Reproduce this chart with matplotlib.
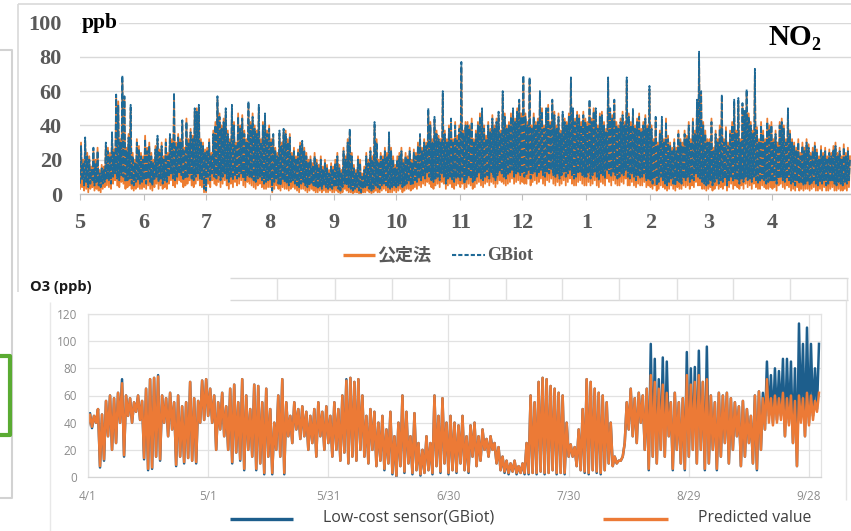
import numpy as np
import matplotlib
matplotlib.use("Agg")
import matplotlib.pyplot as plt
from matplotlib.lines import Line2D

# ---------------- NO2 chart data (daily low / high, May -> early May next year) ----------------
no2_months = ['5', '6', '7', '8', '9', '10', '11', '12', '1', '2', '3', '4']
no2_month_start_day = [0, 31, 61, 92, 123, 153, 184, 214, 245, 276, 304, 335]

no2_gbiot_hi = (
    [28,18,33,22,20,14,27,18,25,12,15,14,30,25,22,36,24,58,52,30,69,57,25,33,52,22,18,30,26,22,20] +
    [32,25,28,22,18,26,34,24,28,20,30,22,35,30,59,28,33,30,43,25,42,30,36,32,50,48,52,30,28,24] +
    [25,30,22,35,40,57,45,38,42,50,35,30,52,40,28,45,38,44,35,30,54,40,45,38,35,52,30,40,47,35,38] +
    [30,35,25,22,37,28,38,35,30,33,22,25,20,24,28,31,25,22,18,20,16,22,18,15,20,14,18,15,12,16,14] +
    [18,22,15,12,25,20,30,38,22,15,12,20,18,10,14,22,18,25,20,42,30,18,22,20,25,22,36,25,20,15] +
    [20,22,25,18,22,20,25,18,24,22,28,35,25,30,28,50,40,30,45,35,32,30,60,35,30,38,44,30,40,32,38] +
    [77,35,40,40,38,42,30,35,40,45,50,38,32,40,36,44,38,42,48,35,60,45,38,40,45,50,42,48,55,45] +
    [69,45,40,68,38,45,40,42,60,48,38,50,50,40,55,46,38,45,35,48,42,40,45,68,50,42,46,44,40,46,42] +
    [40,55,42,48,50,38,45,46,40,36,68,50,44,55,40,38,42,46,40,68,45,40,50,38,42,45,36,40,44,38,63] +
    [38,30,45,28,35,45,30,42,32,28,25,30,25,35,30,28,35,32,40,30,42,35,55,83,60,40,35,30] +
    [30,42,25,35,30,38,58,30,37,28,35,40,55,35,56,30,53,49,61,45,40,35,73,37,30,40,35,30,42,38,40] +
    [30,35,28,40,42,38,30,50,35,30,28,25,30,22,28,25,30,27,22,25,28,24,20,26,22,25,20,24,22,26] +
    [28,22,25,20,27,22,25,20]
)
no2_gbiot_lo = (
    [6,8,5,7,4,6,8,5,7,5,4,6,7,9,8,6,10,12,9,8,11,10,7,8,9,6,5,7,8,6,7] +
    [8,6,9,7,5,8,10,7,9,6,8,7,10,12,9,8,10,12,11,8,9,10,12,9,8,10,12,9,8,3] +
    [2,10,8,12,10,9,11,8,10,12,9,7,10,8,11,9,10,12,9,8,11,10,9,8,7,9,10,8,6,7,8] +
    [8,2,7,9,6,5,8,7,6,5,7,8,6,5,4,6,7,5,4,5,6,5,4,3,4,3,5,4,3,4,3] +
    [4,5,3,2,4,6,5,4,3,2,3,4,2,1,3,4,5,3,2,3,5,4,3,5,6,5,4,3,4,5] +
    [4,5,6,4,5,6,7,5,6,8,7,9,8,10,9,12,10,8,7,9,10,8,12,10,6,9,10,8,7,9,10] +
    [8,10,6,8,10,9,7,8,10,12,9,8,10,11,9,12,10,8,11,13,12,10,9,11,12,14,10,12,13,11] +
    [12,10,11,14,9,12,13,10,12,14,11,10,13,12,14,11,10,12,9,11,13,10,12,14,11,9,10,12,13,11,10] +
    [10,12,9,11,13,10,8,12,11,9,14,12,10,13,11,9,10,12,11,14,10,9,12,10,8,11,9,10,12,8,9] +
    [8,6,9,5,7,10,8,6,5,7,9,6,5,8,7,6,9,8,10,7,9,8,12,10,9,7,6,5] +
    [6,8,5,7,9,6,8,7,9,5,8,10,7,9,8,6,9,7,10,8,9,7,10,8,6,7,9,8,6,7,8] +
    [7,8,6,9,10,8,7,9,8,6,7,5,8,6,7,5,6,7,5,6,8,6,5,7,6,8,5,6,7,8] +
    [6,5,7,6,5,7,6,8]
)
no2_ref_hi = (
    [30,20,31,24,22,16,25,20,27,14,17,16,28,27,24,34,26,56,54,32,66,55,27,35,50,24,20,32,28,24,22] +
    [34,27,30,24,20,28,32,26,30,22,32,24,33,32,56,30,35,32,41,27,44,32,38,34,48,50,50,32,30,26] +
    [27,32,24,37,42,55,47,40,44,48,37,32,50,42,30,47,40,46,37,32,52,42,47,40,37,50,32,42,45,37,40] +
    [32,33,27,24,35,30,36,37,32,35,24,27,22,26,30,29,27,24,20,22,18,24,20,17,22,16,20,17,14,18,16] +
    [20,24,17,14,27,22,32,36,24,17,14,22,20,12,16,24,20,27,22,40,32,20,24,22,27,24,34,27,22,17] +
    [22,24,27,20,24,22,27,20,26,24,30,33,27,32,30,48,42,32,43,37,34,32,58,37,32,40,42,32,42,34,40] +
    [74,37,42,42,40,44,32,37,42,47,48,40,34,42,38,46,40,44,46,37,58,47,40,42,47,48,44,50,53,47] +
    [66,47,42,66,40,47,42,44,58,50,40,48,52,42,53,48,40,47,37,46,44,42,47,66,48,44,48,46,42,48,44] +
    [42,53,44,50,48,40,47,48,42,38,66,48,46,53,42,40,44,48,42,66,47,42,48,40,44,47,38,42,46,40,61] +
    [40,32,43,30,37,43,32,44,34,30,27,32,27,37,32,30,37,34,42,32,44,37,53,80,58,42,37,32] +
    [32,44,27,37,32,40,56,32,39,30,37,42,53,37,54,32,51,47,59,47,42,37,70,39,32,42,37,32,44,40,42] +
    [32,37,30,42,44,40,32,48,37,32,30,27,32,24,30,27,32,29,24,27,30,26,22,28,24,27,22,26,24,28] +
    [30,24,27,22,29,24,27,22]
)
no2_ref_lo = (
    [3,4,2,3,1,3,4,2,3,2,1,3,4,5,4,3,6,8,5,4,7,6,3,4,5,3,2,3,4,3,3] +
    [4,3,5,3,2,4,6,3,5,3,4,3,6,8,5,4,6,8,7,4,5,6,8,5,4,6,8,5,4,1] +
    [1,6,4,8,6,5,7,4,6,8,5,3,6,4,7,5,6,8,5,4,7,6,5,4,3,5,6,4,3,3,4] +
    [4,1,3,5,3,2,4,3,3,2,3,4,3,2,1,3,3,2,1,2,3,2,1,1,2,1,2,1,1,2,1] +
    [1,2,1,0,1,3,2,1,1,0,1,1,0,0,1,1,2,1,0,1,2,1,1,2,3,2,1,1,1,2] +
    [1,2,3,1,2,3,3,2,3,4,3,5,4,6,5,7,6,4,3,5,6,4,7,6,3,5,6,4,3,5,6] +
    [4,6,3,4,6,5,3,4,6,7,5,4,6,7,5,7,6,4,6,8,7,6,5,6,7,9,6,7,8,6] +
    [7,6,6,9,5,7,8,6,7,9,6,5,8,7,9,6,5,7,5,6,8,5,7,9,6,5,5,7,8,6,5] +
    [5,7,5,6,8,5,4,7,6,5,9,7,5,8,6,5,5,7,6,9,5,5,7,5,4,6,5,5,7,4,5] +
    [4,3,5,2,3,5,4,3,2,3,5,3,2,4,3,3,5,4,5,3,5,4,7,5,5,3,3,2] +
    [3,4,2,3,5,3,4,3,5,2,4,6,3,5,4,3,5,3,6,4,5,3,6,4,3,3,5,4,3,3,4] +
    [3,4,2,5,6,4,3,5,4,2,3,2,4,2,3,2,3,3,2,3,4,2,2,3,2,4,2,2,3,4] +
    [2,2,3,2,2,3,2,4]
)

# ---------------- O3 chart data (daily low / high, 4/1 -> 9/30) ----------------
o3_tick_days = [0, 30, 60, 90, 120, 150, 180]
o3_tick_labels = ['4/1', '5/1', '5/31', '6/30', '7/30', '8/29', '9/28']

o3_sensor_lo = (
    [38,36,40,7,12,30,20,25,40,15,45,40,48,42,13,5,6,15,12,40,30,35,8,15,10,14,12,10,40,42] +
    [45,40,20,35,30,20,10,18,12,5,20,15,5,10,2,15,2,20,15,2,30,25,35,28,30,20,25,15,30,20,25] +
    [15,20,12,18,10,15,12,20,15,10,20,8,12,5,10,2,0,8,3,10,2,5,1,3,5,2,8,3,10,2] +
    [5,3,10,5,3,15,8,12,20,15,20,10,5,3,2,4,2,3,2,2,3,2,4,2,3,5,2,3,2,15,15] +
    [8,5,3,2,5,3,2,5,10,8,10,12,25,35,30,25,40,20,5,15,10,20,15,30,5,20,10,5,15,20,10] +
    [20,5,10,20,5,15,25,10,20,30,8,15,25,10,5,20,35,45,40,42,45,30,40,25,8,45,30,40,45,50]
)
o3_sensor_hi = (
    [47,45,50,46,56,60,58,62,72,60,58,55,60,56,65,72,73,75,60,58,62,55,60,52,55,70,58,56,71,72] +
    [65,60,55,62,52,65,68,55,72,60,50,68,67,55,65,50,40,60,72,55,45,55,50,52,48,45,50,55,48,52,45] +
    [55,50,60,72,73,70,72,60,45,50,48,40,45,35,48,30,40,60,48,30,47,25,20,30,25,60,45,58,40,45] +
    [40,38,45,30,38,40,30,35,28,30,25,22,15,12,10,12,8,10,25,60,55,70,73,72,67,65,62,60,40,24,22] +
    [35,50,72,70,65,62,60,55,40,15,12,15,55,65,58,62,60,65,98,87,72,88,85,55,62,55,58,92,80,81,93] +
    [70,96,60,55,62,60,62,58,55,52,56,50,45,60,63,62,85,75,80,78,87,87,85,80,113,98,110,98,80,98]
)
o3_pred_lo = (
    [38,37,40,8,13,30,20,25,40,16,45,40,48,42,14,6,7,15,13,40,30,35,9,15,11,14,12,11,40,42] +
    [45,40,20,35,30,20,11,18,13,6,20,15,6,10,3,15,3,20,15,3,30,25,35,28,30,20,25,15,30,20,25] +
    [15,20,12,18,10,15,12,20,15,10,20,8,12,6,10,3,1,8,4,10,3,5,2,3,5,3,8,4,10,3] +
    [5,4,10,5,4,15,8,12,20,15,20,10,5,4,3,4,3,3,3,3,3,3,4,3,3,5,3,3,3,15,15] +
    [8,5,4,3,5,4,3,5,10,8,10,12,25,35,30,25,40,20,6,15,10,20,15,30,6,20,10,6,15,20,10] +
    [20,6,10,20,6,15,25,10,20,30,8,15,25,10,6,20,35,40,38,40,42,30,38,25,8,40,30,38,42,48]
)
o3_pred_hi = (
    [46,45,50,46,56,60,58,62,69,60,58,55,60,56,65,72,73,74,60,58,62,55,60,52,55,70,58,56,71,72] +
    [65,60,55,62,52,65,68,55,72,60,50,68,67,55,65,50,40,60,72,55,45,55,50,52,48,45,50,55,48,52,45] +
    [55,50,60,71,73,70,72,60,45,50,48,40,45,35,48,30,40,60,48,30,47,25,20,30,25,60,45,58,40,45] +
    [40,38,45,30,38,40,30,35,28,30,25,22,15,12,10,12,8,10,25,60,55,70,73,72,67,65,62,60,40,24,22] +
    [35,50,72,70,65,62,60,55,40,15,12,15,55,65,58,62,60,65,75,70,65,68,62,55,62,55,58,75,68,70,75] +
    [70,72,60,55,62,60,62,58,55,52,56,50,45,60,63,58,72,58,60,58,62,58,60,56,60,58,62,60,56,62]
)


def interleave(lo, hi):
    n = min(len(lo), len(hi))
    return np.column_stack([lo[:n], hi[:n]]).ravel()


W, H = 851, 531
fig = plt.figure(figsize=(W / 100, H / 100), dpi=100)
fig.patch.set_facecolor('white')


def fx(x):
    return x / W


def fy(y):
    return 1 - y / H


def fline(xs, ys, color, lw, **kw):
    fig.add_artist(Line2D([fx(v) for v in xs], [fy(v) for v in ys], color=color, lw=lw,
                          transform=fig.transFigure, solid_capstyle='butt', **kw))


# ---- decorative frames from the screenshot ----
fline([0, 12, 12, 0], [50, 50, 498, 498], '#d2d2d2', 1.5)
fline([18, 18], [292, 4], '#d9d9d9', 1.2)
fline([18, 851], [4, 4], '#d9d9d9', 1.2)
fline([0, 10, 10, 0], [356, 356, 435, 435], '#5aab32', 3.0)

# ---------------- NO2 axes ----------------
serif = 'Liberation Serif'
grey = '#595959'
ax1 = fig.add_axes([fx(80), fy(194), (851 - 80) / W, (194 - 22.5) / H])
no2_ref = interleave(no2_ref_lo, no2_ref_hi)
no2_gb = interleave(no2_gbiot_lo, no2_gbiot_hi)
ax1.plot(np.arange(len(no2_ref)) * 0.5, no2_ref, color='#ed7d31', lw=1.3)
ax1.plot(np.arange(len(no2_gb)) * 0.5, no2_gb, color='#1f6a97', lw=1.3, ls=(0, (3.5, 1.0)))
ax1.set_xlim(0, 373)
ax1.set_ylim(0, 100)
for s in ['top', 'right', 'left']:
    ax1.spines[s].set_visible(False)
ax1.spines['bottom'].set_color('#bfbfbf')
ax1.spines['bottom'].set_linewidth(1.0)
ax1.set_yticks(range(0, 101, 20), [str(v) for v in range(0, 101, 20)],
               fontfamily=serif, fontweight='bold', fontsize=16, color=grey)
ax1.set_xticks(no2_month_start_day, no2_months, fontfamily=serif, fontweight='bold',
               fontsize=16, color=grey)
ax1.tick_params(axis='y', length=0, pad=13)
ax1.tick_params(axis='x', length=4, color='#bfbfbf', pad=10)
ax1.yaxis.grid(True, color='#d9d9d9', lw=1.0)
ax1.set_axisbelow(True)

fig.text(fx(82), fy(28), 'ppb', ha='left', va='baseline', fontfamily=serif, fontweight='bold',
         fontsize=15.5, color='black',
         bbox=dict(facecolor='white', edgecolor='none', pad=1))
fig.text(fx(812), fy(45), 'NO', ha='right', va='baseline', fontfamily=serif, fontweight='bold',
         fontsize=21, color='black')
fig.text(fx(811), fy(50), '2', ha='left', va='baseline', fontfamily=serif, fontweight='bold',
         fontsize=13, color='black')

# NO2 legend
fline([343, 375], [255, 255], '#ed7d31', 2.4)
fig.text(fx(377), fy(255), '公定法', ha='left', va='center', fontfamily=['Noto Sans CJK JP'],
         fontweight='bold', fontsize=13, color=grey)
fline([452, 485], [255, 255], '#1f6a97', 1.5, ls=(0, (2, 1)))
fig.text(fx(487), fy(255), 'GBiot', ha='left', va='center', fontfamily=serif, fontweight='bold',
         fontsize=13, color=grey)

# ---------------- O3 panel decorations ----------------
fline([230, 848], [278, 278], '#d9d9d9', 1.0)
fline([230, 848], [300, 300], '#d9d9d9', 1.0)
for xv in [277, 335, 392, 449, 506, 562, 619, 677, 733, 790, 847]:
    fline([xv, xv], [278, 300], '#e0e0e0', 1.0)
fline([50, 50], [302, 531], '#e8e8e8', 1.0)
fline([846, 846], [300, 500], '#e3e3e3', 1.0)
fig.text(fx(30), fy(287), 'O3 (ppb)', ha='left', va='center', fontfamily='Open Sans',
         fontweight='bold', fontsize=10.5, color='#1a1a1a')

ax2 = fig.add_axes([fx(88), fy(477), (821 - 88) / W, (477 - 314) / H])
o3_s = interleave(o3_sensor_lo, o3_sensor_hi)
o3_p = interleave(o3_pred_lo, o3_pred_hi)
ax2.plot(np.arange(len(o3_s)) * 0.5, o3_s, color='#1d5e8c', lw=1.8)
ax2.plot(np.arange(len(o3_p)) * 0.5, o3_p, color='#ec7a36', lw=1.8)
ax2.set_xlim(0, 183)
ax2.set_ylim(0, 120)
ax2.set_xticks(o3_tick_days, o3_tick_labels, fontfamily='Open Sans', fontsize=8.5, color='#8c8c8c')
ax2.set_yticks(range(0, 121, 20), [str(v) for v in range(0, 121, 20)],
               fontfamily='Open Sans', fontsize=8.5, color='#8c8c8c')
ax2.tick_params(axis='both', length=0)
ax2.tick_params(axis='x', pad=9)
ax2.tick_params(axis='y', pad=8)
ax2.grid(True, color='#e2e2e2', lw=0.9)
ax2.set_axisbelow(True)
for s in ['top', 'right', 'left', 'bottom']:
    ax2.spines[s].set_color('#e2e2e2')
    ax2.spines[s].set_linewidth(0.9)
ax2.spines['bottom'].set_color('#d4d4d4')

# O3 legend
fline([230, 293], [519, 519], '#1d5e8c', 2.4)
fig.text(fx(323), fy(518), 'Low-cost sensor(GBiot)', ha='left', va='center', fontfamily='Open Sans',
         fontsize=11.5, color='#404040')
fline([603, 668], [519, 519], '#ec7a36', 2.4)
fig.text(fx(698), fy(518), 'Predicted value', ha='left', va='center', fontfamily='Open Sans',
         fontsize=11.3, color='#404040')

fig.savefig('out.png', dpi=100, facecolor='white')
